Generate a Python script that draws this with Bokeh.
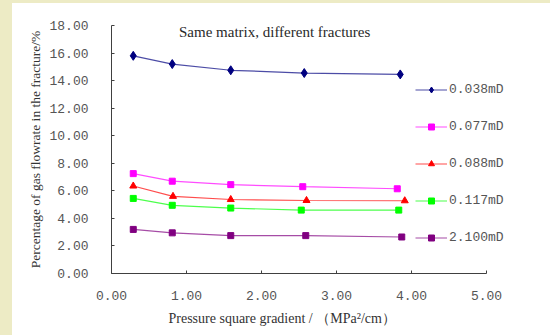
from bokeh.plotting import figure
from bokeh.models import Range1d, FixedTicker, PrintfTickFormatter, Legend, LegendItem, Label, Spacer, Title
from bokeh.layouts import column, row
from bokeh.embed import file_html
from bokeh.resources import INLINE

# ---- data ----
x_tick_values = [0, 1, 2, 3, 4, 5]
y_tick_values = [0, 2, 4, 6, 8, 10, 12, 14, 16, 18]

labels = ["0.038mD", "0.077mD", "0.088mD", "0.117mD", "2.100mD"]

x_038 = [0.29, 0.81, 1.59, 2.57, 3.85]
y_038 = [15.8, 15.2, 14.75, 14.55, 14.45]

x_077 = [0.29, 0.81, 1.59, 2.55, 3.81]
y_077 = [7.25, 6.7, 6.45, 6.3, 6.15]

x_088 = [0.29, 0.82, 1.59, 2.60, 3.91]
y_088 = [6.35, 5.6, 5.37, 5.3, 5.28]

x_117 = [0.29, 0.81, 1.59, 2.53, 3.83]
y_117 = [5.45, 4.95, 4.75, 4.6, 4.6]

x_2100 = [0.29, 0.81, 1.59, 2.59, 3.87]
y_2100 = [3.2, 2.95, 2.75, 2.75, 2.65]

series = [
    (x_038, y_038, "#000080", "diamond", 9),
    (x_077, y_077, "#FF00FF", "square", 6),
    (x_088, y_088, "#FF0000", "triangle", 7),
    (x_117, y_117, "#00FF00", "square", 6),
    (x_2100, y_2100, "#800080", "square", 6),
]

CREAM = "#EDEBC5"
MONO = "Liberation Mono"
SERIF = "Liberation Serif"

# frame: 0..5 over 375 px; range extended to the right so the legend is not clipped
FRAME_W = 538 - 99 - 2
p = figure(width=538, height=332, output_backend="svg", toolbar_location=None,
           x_range=Range1d(0, 5 * FRAME_W / 375.0), y_range=Range1d(0, 18),
           min_border_left=99, min_border_right=2, min_border_top=22, min_border_bottom=62)
p.xgrid.visible = False
p.ygrid.visible = False
p.outline_line_color = None
p.background_fill_color = "white"
p.border_fill_color = "white"

for ax in (p.xaxis[0], p.yaxis[0]):
    ax.axis_line_color = "#404040"
    ax.major_tick_line_color = "#404040"
    ax.major_tick_in = 3
    ax.major_tick_out = 0
    ax.minor_tick_line_color = None
    ax.major_label_text_font = MONO
    ax.major_label_text_font_size = "13px"
    ax.major_label_text_color = "#555555"
    ax.formatter = PrintfTickFormatter(format="%.2f")
    ax.axis_label_text_font = SERIF
    ax.axis_label_text_font_style = "normal"
    ax.axis_label_text_color = "#333333"
    ax.axis_label_text_font_size = "13.5px"

p.xaxis[0].bounds = (0, 5)
p.xaxis[0].ticker = FixedTicker(ticks=x_tick_values)
p.yaxis[0].ticker = FixedTicker(ticks=y_tick_values)
p.yaxis[0].major_label_standoff = 23
p.xaxis[0].major_label_standoff = 17
p.yaxis[0].axis_label = "Percentage of gas flowrate in the fracture/%"
p.yaxis[0].axis_label_standoff = 3

xlabel = Title(text="Pressure square gradient  /  （MPa²/cm）", align="left", offset=57,
               text_font=SERIF, text_font_style="normal", text_font_size="14px",
               text_color="#333333", standoff=13)
p.add_layout(xlabel, "below")

items = []
for (xs, ys, color, marker, size), lab in zip(series, labels):
    r1 = p.line(xs, ys, line_color=color, line_width=1.2, line_alpha=0.7)
    r2 = p.scatter(xs, ys, marker=marker, size=size, fill_color=color, line_color=color)
    items.append(LegendItem(label=lab, renderers=[r1, r2]))

legend = Legend(items=items, location=(304, 28), background_fill_alpha=0,
                border_line_color=None, padding=0, margin=0,
                glyph_width=32, glyph_height=15, label_height=15, spacing=22,
                label_standoff=2, label_text_font=MONO, label_text_font_size="13px",
                label_text_color="#555555")
p.add_layout(legend, "center")

title = Label(x=0.9, y=18, y_offset=2, text="Same matrix, different fractures", text_font=SERIF,
              text_font_size="15px", text_color="#2a2a2a", text_baseline="top")
p.add_layout(title)

top_strip = Spacer(width=550, height=3, styles={"background-color": CREAM})
left_strip = Spacer(width=12, height=332, styles={"background-color": CREAM})
layout = column(top_strip, row(left_strip, p, spacing=0), spacing=0)

open("out.html", "w").write(file_html(layout, INLINE))
